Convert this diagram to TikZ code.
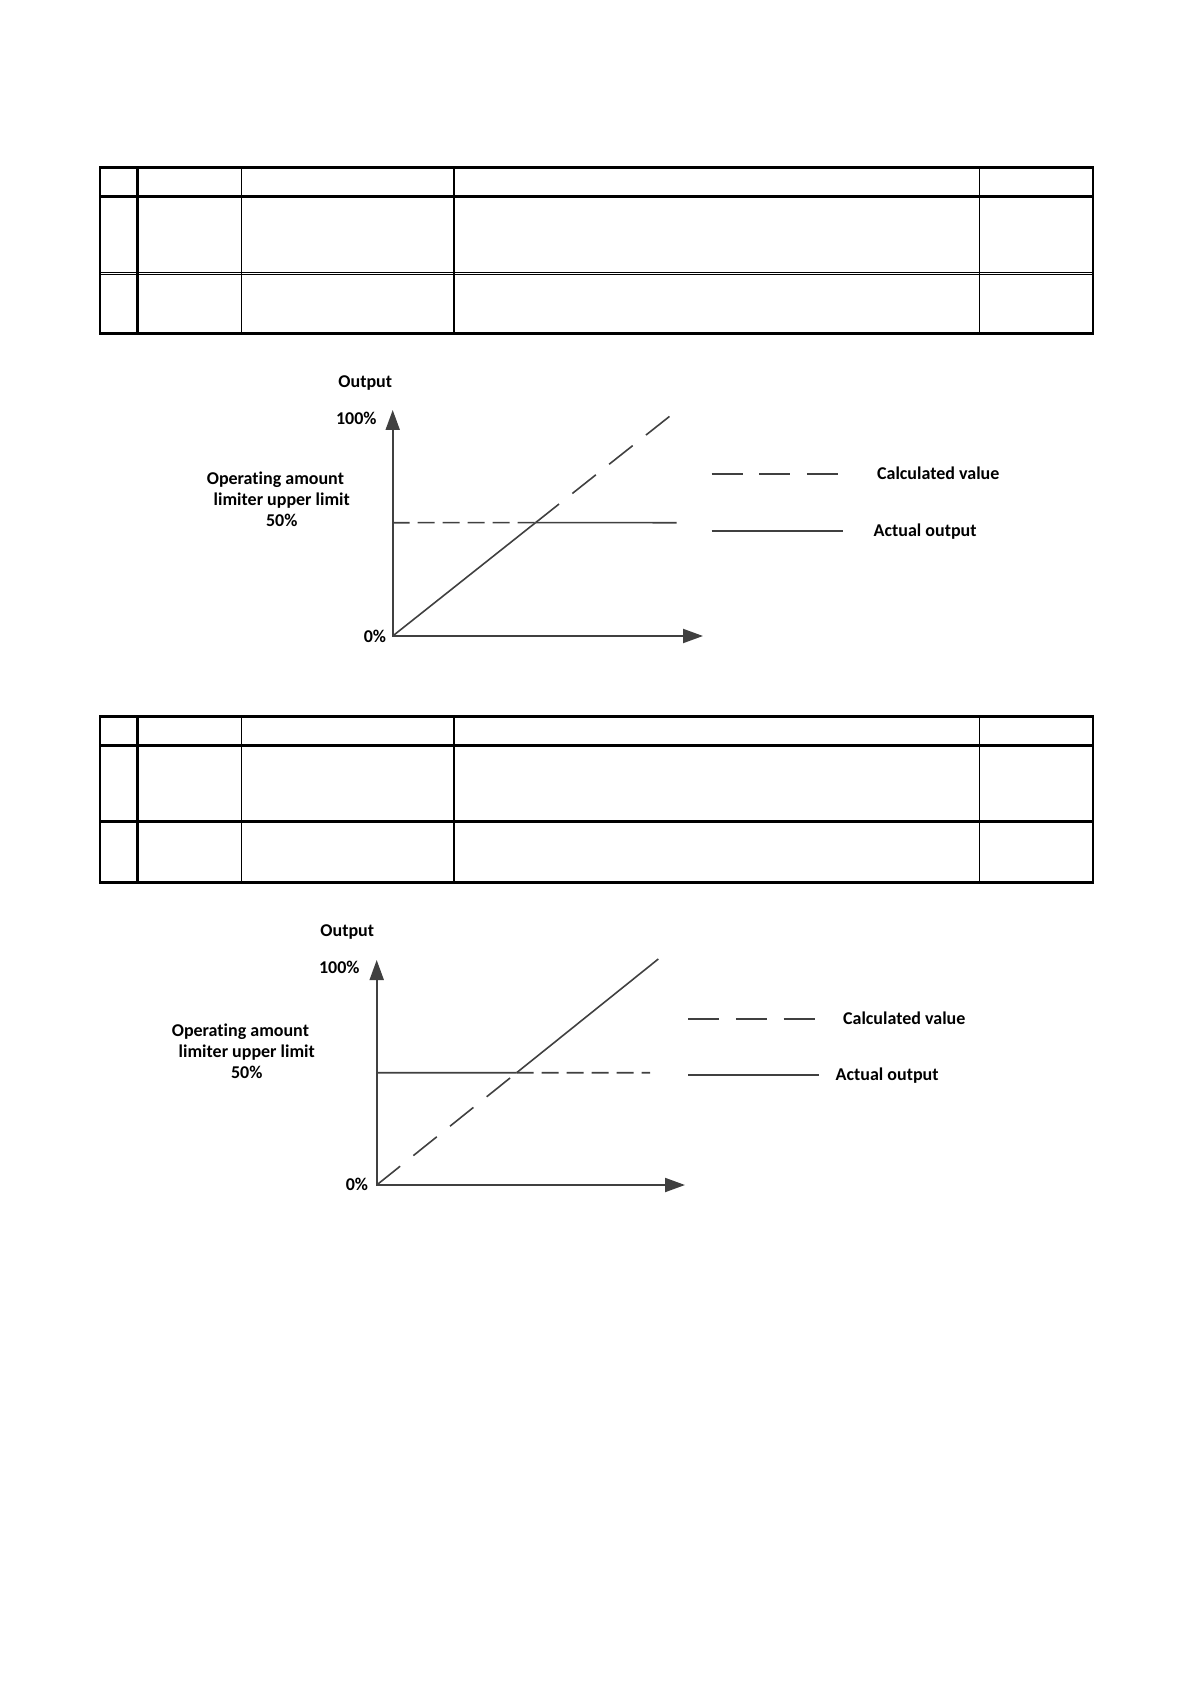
\documentclass[tikz,border=0pt]{standalone}
\usepackage{fontspec}
\setmainfont{Carlito}[Ligatures=NoCommon]
\usetikzlibrary{arrows.meta}
\definecolor{plotgray}{HTML}{404040}

\tikzset{
  rule/.style={line width=1.3pt},
  hair/.style={line width=0.5pt},
  axis/.style={plotgray, line width=1pt, <->},
  actual/.style={plotgray, line width=0.8pt},
  calcdash/.style={plotgray, line width=0.8pt, dash pattern=on 15pt off 8.5pt},
  limitdash/.style={plotgray, line width=0.8pt, dash pattern=on 8.5pt off 4pt},
  keydash/.style={plotgray, line width=0.9pt, dash pattern=on 15.5pt off 8.3pt},
  lbl/.style={font=\bfseries\fontsize{9}{10.5}\selectfont, inner sep=0pt, align=center},
}

\begin{document}
\begin{tikzpicture}[x=0.5pt, y=-0.5pt, >={Triangle[length=10pt,width=7pt]}]
    \useasboundingbox (0,0) rectangle (1191,1684);

    % Table 1
    \draw[hair] (241,167.3) -- (241,333.3);
    \draw[hair] (979.5,167.3) -- (979.5,333.3);
    \draw[rule] (137.5,167.3) -- (137.5,333.3);
    \draw[rule] (454,167.3) -- (454,333.3);
    \draw[line width=1.4pt] (100,196.7) -- (1093,196.7);
    \draw[hair] (100,272.2) -- (1093,272.2);
    \draw[hair] (100,274.2) -- (1093,274.2);
    \draw[rule] (100,167.3) rectangle (1093,333.3);

    % Table 2
    \begin{scope}[shift={(0,549)}]
    \draw[hair] (241,167.3) -- (241,333.3);
    \draw[hair] (979.5,167.3) -- (979.5,333.3);
    \draw[rule] (137.5,167.3) -- (137.5,333.3);
    \draw[rule] (454,167.3) -- (454,333.3);
    \draw[line width=1.4pt] (100,196.7) -- (1093,196.7);
    \draw[rule] (100,272.7) -- (1093,272.7);
    \draw[rule] (100,167.3) rectangle (1093,333.3);
    \end{scope}

    % Chart 1: output clipped at the limiter
    \coordinate (O1) at (392.7,636);
    \coordinate (Y1) at (392.7,410);
    \coordinate (X1) at (703,636);
    \coordinate (L1) at (392.7,522.7);
    \coordinate (E1) at (676.7,522.7);
    \coordinate (T1) at (670,416);
    \coordinate (I1) at (intersection of O1--T1 and L1--E1);

    \draw[axis] (Y1) -- (O1) -- (X1);
    \draw[limitdash] (L1) -- (I1);
    \draw[actual] (I1) -- (E1);
    \draw[actual] (O1) -- (I1);
    \draw[calcdash] (I1) -- (T1);

    \node[lbl, anchor=base] (out1) at (365.3,387.5) {Output};
    \node[lbl, anchor=base east] (full1) at (377,424.1) {100\%};
    \node[lbl, anchor=base east] (zero1) at (386.5,642.5) {0\%};
    \node[lbl] (lim1) at (281.8,499.5) {Operating amount\hspace*{6.4pt}\\limiter upper limit\\50\%};

    % Legend 1
    \coordinate (cA1) at (711.7,474);
    \coordinate (cB1) at (838.3,474);
    \coordinate (aA1) at (711.7,530.7);
    \coordinate (aB1) at (842.7,530.7);
    \draw[keydash] (cA1) -- (cB1);
    \draw[actual] (aA1) -- (aB1);
    \node[lbl, anchor=base west] (calc1) at (876.7,479.8) {Calculated value};
    \node[lbl, anchor=base west] (act1) at (873.3,536.5) {Actual output};

    % Chart 2: calculated value clipped at the limiter
    \coordinate (O2) at (376.7,1185);
    \coordinate (Y2) at (376.7,960);
    \coordinate (X2) at (685,1185);
    \coordinate (L2) at (376.7,1072.7);
    \coordinate (E2) at (650,1072.7);
    \coordinate (T2) at (658.3,959);
    \coordinate (I2) at (intersection of O2--T2 and L2--E2);

    \draw[axis] (Y2) -- (O2) -- (X2);
    \draw[actual] (L2) -- (I2);
    \draw[limitdash] (I2) -- (E2);
    \draw[calcdash] (O2) -- (I2);
    \draw[actual] (I2) -- (T2);

    \node[lbl, anchor=base] (out2) at (347.3,936.5) {Output};
    \node[lbl, anchor=base east] (full2) at (360,973.5) {100\%};
    \node[lbl, anchor=base east] (zero2) at (368.5,1190.8) {0\%};
    \node[lbl] (lim2) at (246.8,1051) {Operating amount\hspace*{6.4pt}\\limiter upper limit\\50\%};

    % Legend 2
    \coordinate (cA2) at (688.3,1018.6);
    \coordinate (cB2) at (815,1018.6);
    \coordinate (aA2) at (688.3,1075);
    \coordinate (aB2) at (819.3,1075);
    \draw[keydash] (cA2) -- (cB2);
    \draw[actual] (aA2) -- (aB2);
    \node[lbl, anchor=base west] (calc2) at (842.7,1024.1) {Calculated value};
    \node[lbl, anchor=base west] (act2) at (835.3,1080.8) {Actual output};
\end{tikzpicture}
\end{document}
